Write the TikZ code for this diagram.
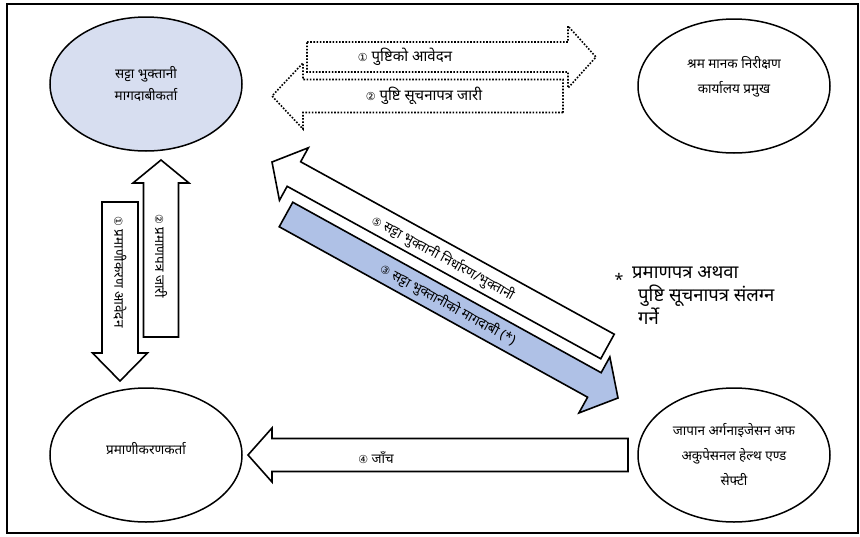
\documentclass[tikz,border=0pt]{standalone}
\usepackage{fontspec}
\setmainfont{Noto Sans}[Script=Devanagari]
\newfontfamily\symfont{DejaVu Sans}
\usetikzlibrary{calc, shapes.geometric}
\definecolor{claimfill}{HTML}{D7DEF0}
\definecolor{claimarrow}{HTML}{AFC1E6}
\newcommand{\cnum}[1]{{\symfont\fontsize{11}{11}\selectfont #1}}
% block arrow: [style]{tail}{tip}{shaft half}{head half}{head length}
\newcommand{\blockarrow}[6][]{%
  \coordinate (hb) at ($(#3)!#6!(#2)$);
  \draw[#1] ($(#2)!#4!90:(#3)$) -- ($(hb)!#4!-90:(#2)$)
    -- ($(hb)!#5!-90:(#2)$) -- (#3)
    -- ($(hb)!#5!90:(#2)$) -- ($(hb)!#4!90:(#2)$)
    -- ($(#2)!#4!-90:(#3)$) -- cycle;
}

\begin{document}
\begin{tikzpicture}[x=1pt, y=-1pt,
  party/.style={draw, ellipse, line width=1.5pt, align=center,
    font=\fontsize{13.5}{25}\selectfont, minimum width=192pt,
    minimum height=134pt, inner sep=0pt},
  blk/.style={draw, line width=1.6pt, fill=white, line join=miter},
  dotblk/.style={draw, line width=1.6pt, dash pattern=on 1.6pt off 1.6pt},
  lbl/.style={font=\fontsize{13.5}{14}\selectfont, inner sep=1pt}
]
  \useasboundingbox (0,0) rectangle (860,536);
  \draw[line width=2.5pt] (7,4) rectangle (858,533);

  % Parties
  \node[party, fill=claimfill, font=\fontsize{13.5}{22}\selectfont] (claim)
    at (146,84) {सट्टा भुक्तानी\\मागदाबीकर्ता};
  \node[party] (chief) at (734,86)
    {श्रम मानक निरीक्षण\\कार्यालय प्रमुख\\[-2pt]};
  \node[party] (cert) at (146,455) {प्रमाणीकरणकर्ता\\[-11pt]};
  \node[party] (jisha) at (734,455)
    {जापान अर्गनाइजेसन अफ\\अकुपेसनल हेल्थ एण्ड\\सेफ्टी};

  % Arrow ends
  \coordinate (askT) at (307,57);   \coordinate (askH) at (596,57);
  \coordinate (issT) at (563,96);   \coordinate (issH) at (272,96);
  \coordinate (apT) at (120,202);   \coordinate (apH) at (120,381);
  \coordinate (ceT) at (161,337);   \coordinate (ceH) at (161,160);
  \coordinate (chkT) at (628,455);  \coordinate (chkH) at (248,455);
  \coordinate (payT) at (607.5,346.5); \coordinate (payH) at (272,162);
  \coordinate (demT) at (286,214.5);   \coordinate (demH) at (618,398);

  % Arrows
  \blockarrow[dotblk]{askT}{askH}{15pt}{31pt}{28pt}
  \blockarrow[dotblk]{issT}{issH}{16.5pt}{33pt}{31pt}
  \blockarrow[blk]{apT}{apH}{18pt}{27.5pt}{28pt}
  \blockarrow[blk]{ceT}{ceH}{17.5pt}{28pt}{23pt}
  \blockarrow[blk]{chkT}{chkH}{16.5pt}{27pt}{24pt}
  \blockarrow[blk]{payT}{payH}{14pt}{30pt}{25pt}
  \blockarrow[blk, fill=claimarrow]{demT}{demH}{14pt}{32pt}{27pt}

  % Labels
  \node[lbl, font=\fontsize{15}{16}\selectfont] (askL) at (405,57)
    {\cnum{①} पुष्टिको आवेदन};
  \node[lbl, font=\fontsize{15}{16}\selectfont] (issL) at (424,96)
    {\cnum{②} पुष्टि सूचनापत्र जारी};
  \node[lbl, rotate=-90] (apL) at (120,272) {\cnum{①} प्रमाणीकरण आवेदन};
  \node[lbl, rotate=-90] (ceL) at (161,256) {\cnum{②} प्रमाणपत्र जारी};
  \node[lbl] (chkL) at (376,457) {\cnum{④} जाँच};
  \node[lbl, rotate=-28.8] (payL) at (443,258)
    {\cnum{⑤} सट्टा भुक्तानी निर्धारण/भुक्तानी};
  \node[lbl, rotate=-28.8] (demL) at (448,305)
    {\cnum{③} सट्टा भुक्तानीको मागदाबी (*)};

  % Note
  \node[font=\fontsize{16}{16}\selectfont, inner sep=0pt] (star) at (619,279) {*};
  \node[font=\fontsize{18.5}{23}\selectfont, align=left, anchor=north west,
    inner sep=0pt] (note) at (632,267)
    {प्रमाणपत्र अथवा\\\hspace*{6pt}पुष्टि सूचनापत्र संलग्न\\\hspace*{6pt}गर्ने};
\end{tikzpicture}
\end{document}
